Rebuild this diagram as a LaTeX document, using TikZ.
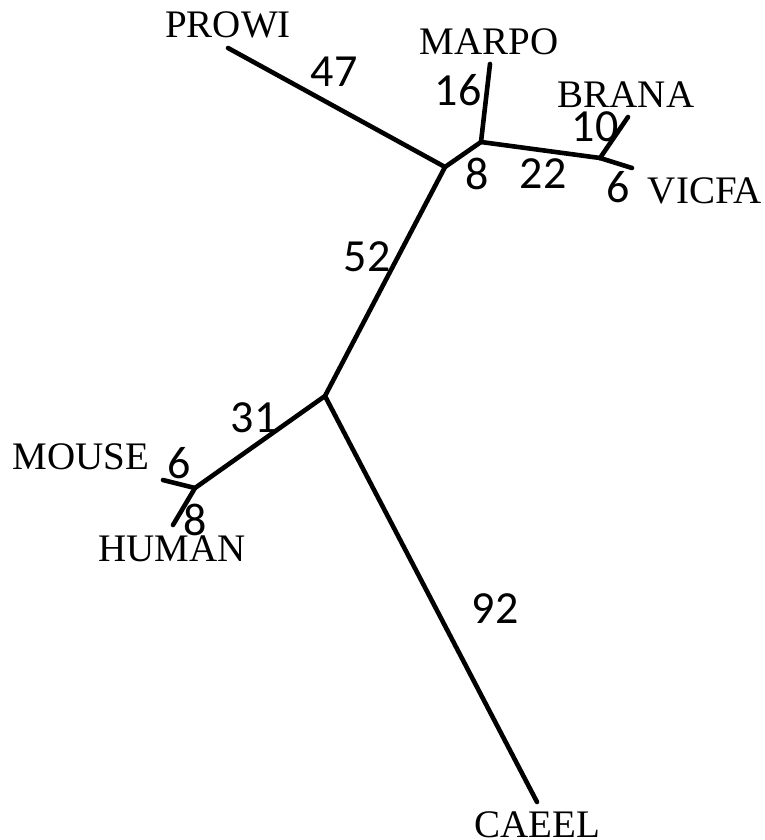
\documentclass[tikz,border=0pt]{standalone}
\usepackage{fontspec}
\setmainfont{Liberation Serif}
\newfontfamily\numfont{Carlito}
\usetikzlibrary{positioning}

\begin{document}
\begin{tikzpicture}[
  x=1pt, y=-1pt,
  branch/.style={line width=4.6pt, line cap=round},
  taxon/.style={inner sep=0pt, font=\fontsize{39}{42}\selectfont},
  len/.style={inner sep=0pt, font=\numfont\fontsize{46}{50}\selectfont}
]
\useasboundingbox (0,0) rectangle (765,840);

% inner nodes of the tree
\coordinate (a) at (445,167);
\coordinate (b) at (481,142);
\coordinate (c) at (600,158);
\coordinate (e) at (325,396);
\coordinate (d) at (195,488);

% leaf ends
\coordinate (prowi) at (228,48);
\coordinate (marpo) at (490,64);
\coordinate (brana) at (628,117);
\coordinate (vicfa) at (632,168);
\coordinate (mouse) at (163,480);
\coordinate (human) at (173,525);
\coordinate (caeel) at (537,802);

\draw[branch] (a) -- (prowi);
\draw[branch] (a) -- (b);
\draw[branch] (b) -- (marpo);
\draw[branch] (b) -- (c);
\draw[branch] (c) -- (brana);
\draw[branch] (c) -- (vicfa);
\draw[branch] (a) -- (e);
\draw[branch] (e) -- (d);
\draw[branch] (d) -- (mouse);
\draw[branch] (d) -- (human);
\draw[branch] (e) -- (caeel);

% taxon names
\node[taxon] (tprowi) at (228,25)  {PROWI};
\node[taxon] (tmarpo) at (489,42)  {MARPO};
\node[taxon] (tbrana) at (626,95)  {BRANA};
\node[taxon] (tvicfa) at (705,191) {VICFA};
\node[taxon] (tmouse) at (81,457)  {MOUSE};
\node[taxon] (thuman) at (172,549) {HUMAN};
\node[taxon] (tcaeel) at (537,825) {CAEEL};

% branch lengths
\node[len] (l47) at (334,72)  {47};
\node[len] (l16) at (458,90)  {16};
\node[len] (l10) at (595,127) {10};
\node[len] (l8a) at (477,174) {8};
\node[len] (l22) at (543,174) {22};
\node[len] (l6a) at (618,187) {6};
\node[len] (l52) at (367,257) {52};
\node[len] (l31) at (254,418) {31};
\node[len] (l6b) at (179,463) {6};
\node[len] (l8b) at (195,520) {8};
\node[len] (l92) at (495,609) {92};
\end{tikzpicture}
\end{document}
